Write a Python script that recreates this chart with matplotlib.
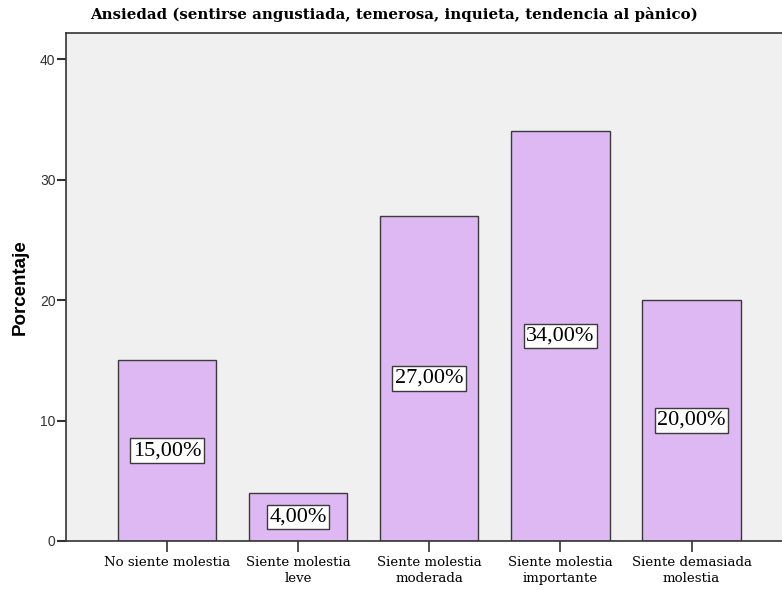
import matplotlib
matplotlib.use("Agg")
import matplotlib.pyplot as plt

categories = ["No siente molestia", "Siente molestia\nleve", "Siente molestia\nmoderada",
              "Siente molestia\nimportante", "Siente demasiada\nmolestia"]
values = [15.0, 4.0, 27.0, 34.0, 20.0]
labels = ["15,00%", "4,00%", "27,00%", "34,00%", "20,00%"]
yticks = [0, 10, 20, 30, 40]

fig = plt.figure(figsize=(7.82, 5.90), dpi=100)
ax = fig.add_axes([66/782, 49/590, 716/782, 508/590])
ax.set_facecolor("#F0F0F0")
x = list(range(len(categories)))
ax.bar(x, values, width=0.75, color="#DDB8F2", edgecolor="#3a3a3a", linewidth=1.0, zorder=2)
for xi, v, lab in zip(x, values, labels):
    ax.text(xi, v / 2, lab, ha="center", va="center", fontsize=16, family="Liberation Serif",
            bbox=dict(boxstyle="square,pad=0.12", facecolor="white", edgecolor="#3a3a3a", linewidth=1.0),
            zorder=3)
ax.set_xlim(-0.77, 4.69)
ax.set_ylim(0, 42.16)
ax.set_yticks(yticks)
ax.set_yticklabels([str(t) for t in yticks], family="Liberation Sans", fontsize=10, color="#333333")
ax.set_xticks(x)
ax.set_xticklabels(categories, family="DejaVu Serif", fontsize=9.6, linespacing=1.3)
ax.tick_params(axis="x", length=8, width=1.2, color="#333333", pad=3)
ax.tick_params(axis="y", length=6.5, width=1.5, color="#333333", pad=1)
for side in ["top", "left", "bottom"]:
    ax.spines[side].set_color("#333333")
    ax.spines[side].set_linewidth(1.2)
ax.spines["right"].set_visible(False)
ax.set_ylabel("Porcentaje", family="Liberation Sans", fontweight="bold", fontsize=13.5, labelpad=8)
ax.set_title("Ansiedad (sentirse angustiada, temerosa, inquieta, tendencia al pànico)",
             family="DejaVu Serif", fontweight="bold", fontsize=10.8, pad=10, x=0.458)
fig.savefig("out.png", dpi=100)
